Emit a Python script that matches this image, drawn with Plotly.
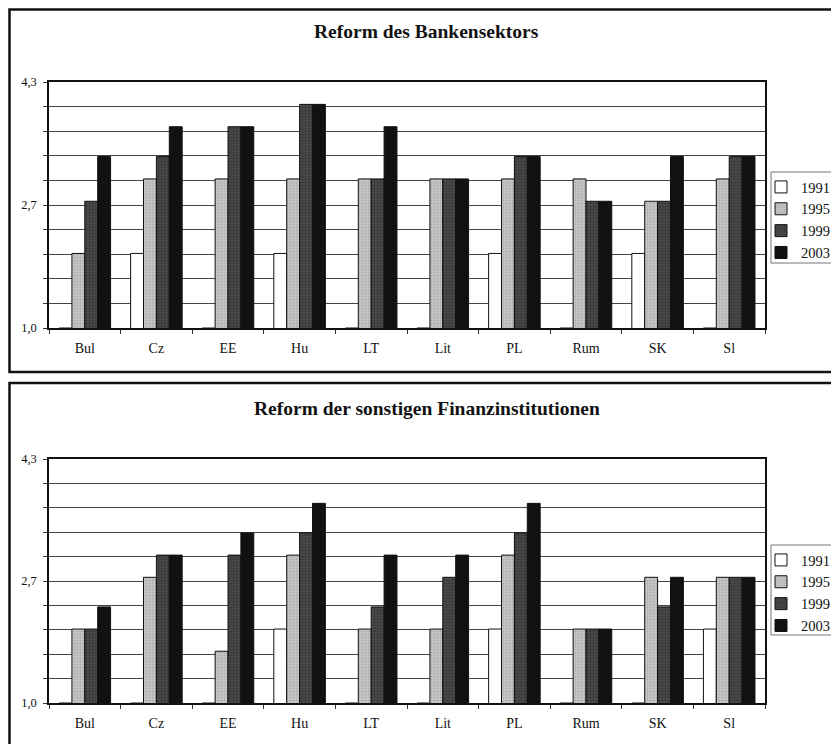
import plotly.graph_objects as go
from plotly.subplots import make_subplots

countries = ["Bul", "Cz", "EE", "Hu", "LT", "Lit", "PL", "Rum", "SK", "Sl"]
years = ["1991", "1995", "1999", "2003"]

# Reform des Bankensektors
bank_1991 = [1.0, 2.0, 1.0, 2.0, 1.0, 1.0, 2.0, 1.0, 2.0, 1.0]
bank_1995 = [2.0, 3.0, 3.0, 3.0, 3.0, 3.0, 3.0, 3.0, 2.7, 3.0]
bank_1999 = [2.7, 3.3, 3.7, 4.0, 3.0, 3.0, 3.3, 2.7, 2.7, 3.3]
bank_2003 = [3.3, 3.7, 3.7, 4.0, 3.7, 3.0, 3.3, 2.7, 3.3, 3.3]

# Reform der sonstigen Finanzinstitutionen
fin_1991 = [1.0, 1.0, 1.0, 2.0, 1.0, 1.0, 2.0, 1.0, 1.0, 2.0]
fin_1995 = [2.0, 2.7, 1.7, 3.0, 2.0, 2.0, 3.0, 2.0, 2.7, 2.7]
fin_1999 = [2.0, 3.0, 3.0, 3.3, 2.3, 2.7, 3.3, 2.0, 2.3, 2.7]
fin_2003 = [2.3, 3.0, 3.3, 3.7, 3.0, 3.0, 3.7, 2.0, 2.7, 2.7]

titles = ["Reform des Bankensektors", "Reform der sonstigen Finanzinstitutionen"]
grid_vals = [1 + i * 0.33 for i in range(11)]
grid_text = ["1,0", "", "", "", "", "2,7", "", "", "", "", "4,3"]

SERIF = "Liberation Serif, Times New Roman, serif"
OFF = 8  # page body margin
W, H = 839 - OFF, 744 - OFF
# targets in screenshot pixels
PL_, PR_, PT_, PB_ = 49, 765, 82, 703
ML, MR, MT, MB = PL_ - OFF, 839 - PR_, PT_ - OFF, 744 - PB_
PW, PH = W - ML - MR, H - MT - MB

def px_x(x):
    return (x - PL_) / PW

def px_y(y):
    return (PB_ - y) / PH

styles = [
    dict(color="#ffffff", pattern=None),
    dict(color="#c4c4c4", pattern=dict(shape=".", fgcolor="#8a8a8a", size=3, solidity=0.25)),
    dict(color="#4a4a4a", pattern=dict(shape="+", fgcolor="#1e1e1e", size=3, solidity=0.35)),
    dict(color="#111111", pattern=None),
]

fig = make_subplots(rows=2, cols=1, vertical_spacing=0.0)
fig.update_layout(
    yaxis=dict(domain=[px_y(328), 1.0]),
    yaxis2=dict(domain=[0.0, px_y(459)]),
)

panels = [
    [bank_1991, bank_1995, bank_1999, bank_2003],
    [fin_1991, fin_1995, fin_1999, fin_2003],
]
for r, series in enumerate(panels, start=1):
    for yr, vals, st in zip(years, series, styles):
        marker = dict(color=st["color"], line=dict(color="#111111", width=1))
        if st["pattern"] is not None:
            marker["pattern"] = dict(fillmode="overlay", **st["pattern"])
        fig.add_trace(
            go.Bar(
                x=countries, y=vals, name=yr, marker=marker,
                legend="legend" if r == 1 else "legend2",
                showlegend=True,
            ),
            row=r, col=1,
        )

axis_x = dict(
    showline=True, linecolor="#111", linewidth=1.5, mirror=True,
    ticks="outside", tickson="boundaries", ticklen=4, tickcolor="#333",
    tickfont=dict(family=SERIF, size=14, color="#111"),
    ticklabelstandoff=6, showgrid=False,
)
axis_y = dict(
    range=[1.0, 4.3], tickvals=grid_vals, ticktext=grid_text,
    showline=True, linecolor="#111", linewidth=1.5, mirror=True,
    ticks="outside", ticklen=4, tickcolor="#333",
    tickfont=dict(family=SERIF, size=12.5, color="#111"),
    ticklabelstandoff=4,
    showgrid=True, gridcolor="#444", gridwidth=1, zeroline=False,
)
fig.update_xaxes(**axis_x)
fig.update_yaxes(**axis_y)

legend_common = dict(
    font=dict(family=SERIF, size=14.5, color="#111"),
    borderwidth=0, bgcolor="rgba(0,0,0,0)",
    x=px_x(761), xanchor="left", yanchor="top",
    tracegroupgap=0, itemwidth=30,
)

def box(x0, x1, y0, y1, color, width):
    return dict(type="rect", xref="paper", yref="paper",
                x0=px_x(x0), x1=px_x(x1), y0=px_y(y1), y1=px_y(y0),
                line=dict(color=color, width=width))

fig.update_layout(
    width=W, height=H,
    font=dict(family=SERIF, color="#111"),
    margin=dict(l=ML, r=MR, t=MT, b=MB, autoexpand=False),
    paper_bgcolor="white", plot_bgcolor="white",
    barmode="group", bargap=0.28, bargroupgap=0.0,
    legend=dict(y=px_y(171), **legend_common),
    legend2=dict(y=px_y(544), **legend_common),
    annotations=[
        dict(text="<b>%s</b>" % titles[0], x=px_x(426), y=px_y(31), xref="paper", yref="paper",
             yanchor="middle", showarrow=False, font=dict(family=SERIF, size=19.5, color="#111")),
        dict(text="<b>%s</b>" % titles[1], x=px_x(427), y=px_y(408), xref="paper", yref="paper",
             yanchor="middle", showarrow=False, font=dict(family=SERIF, size=19.5, color="#111")),
    ],
    shapes=[
        box(9.5, 860, 9.5, 372, "#111", 2.5),
        box(9.5, 860, 383, 770, "#111", 2.5),
        box(771, 860, 172, 263, "#777", 1),
        box(771, 860, 545, 635, "#777", 1),
    ],
)

fig.write_html("out.html")
